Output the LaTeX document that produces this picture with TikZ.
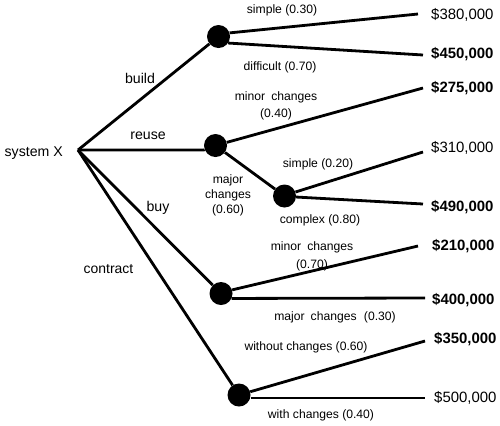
\documentclass[tikz,border=0pt]{standalone}
\usepackage{fontspec}
\setmainfont{Liberation Sans}
\begin{document}
\begin{tikzpicture}[x=1bp,y=-1bp,
  edge/.style={line width=2.8bp},
  chance/.style={circle, fill=black, minimum size=23bp, inner sep=0pt},
  lbl/.style={font=\fontsize{12.2}{15}\selectfont, inner sep=0pt, align=center},
  act/.style={font=\fontsize{14.2}{16}\selectfont, inner sep=0pt},
  amt/.style={font=\fontsize{15}{16}\selectfont, anchor=west, inner sep=0pt},
  amtb/.style={amt, font=\fontsize{15}{16}\selectfont\bfseries}]
\useasboundingbox (0,0) rectangle (500,425);
% root
\coordinate (root) at (78,150);
\node[act, anchor=east] (sx) at (63,153) {system X};
% chance nodes
\node[chance] (bd) at (218.5,36.5) {};
\node[chance] (ru) at (215.5,145.5) {};
\node[chance] (cx) at (284.5,196) {};
\node[chance] (by) at (221,293.5) {};
\node[chance] (ct) at (239,395) {};
% end points
\coordinate (e1) at (418,14);
\coordinate (e2) at (423,55);
\coordinate (e3) at (423,88);
\coordinate (e4) at (423,152);
\coordinate (e5) at (423,204);
\coordinate (e6) at (418,246);
\coordinate (e7) at (425,298);
\coordinate (e8) at (425,341);
\coordinate (e9) at (425,398);
% edges from root
\draw[edge] (root) -- (bd);
\draw[edge] (root) -- (ru.west |- root) -- (ru);
\draw[edge] (root) -- (by);
\draw[edge] (root) -- (ct);
% build branches
\draw[edge] (bd.18) -- (e1);
\draw[edge] (bd.-34) -- (e2);
% reuse branches
\draw[edge] (ru) -- (e3);
\draw[edge] (ru) -- (cx);
\draw[edge] (cx.20) -- (e4);
\draw[edge] (cx.-5) -- (e5);
% buy branches
\draw[edge] (by.18) -- (e6);
\draw[edge] (by.-25) -- (e7);
% contract branches
\draw[edge] (ct) -- (e8);
\draw[edge] (ct.east |- e9) -- (e9);
% action labels
\node[act] (lbuild) at (140,78) {build};
\node[act] (lreuse) at (148,136) {reuse};
\node[act] (lbuy) at (158,208) {buy};
\node[act, font=\fontsize{14}{16}\selectfont] (lcon) at (108.5,269) {contract};
% probability labels
\node[lbl] (p1) at (282,10) {simple (0.30)};
\node[lbl] (p2) at (280,67) {difficult (0.70)};
\node[lbl, font=\fontsize{12.2}{17}\selectfont] (p3) at (276,106) {minor\hspace{0.5em}changes\\(0.40)};
\node[lbl] (p4) at (228,195) {major\\changes\\(0.60)};
\node[lbl] (p5) at (318,164) {simple (0.20)};
\node[lbl] (p6) at (320,220) {complex (0.80)};
\node[lbl, font=\fontsize{12.2}{18}\selectfont] (p7) at (312,256) {minor\hspace{0.5em}changes\\(0.70)};
\node[lbl] (p8) at (335,317) {major\hspace{0.5em}changes\hspace{0.6em}(0.30)};
\node[lbl] (p9) at (306,347) {without changes (0.60)};
\node[lbl] (p10) at (321,415) {with changes (0.40)};
% amounts
\node[amt] (a1) at (431,15) {\$380,000};
\node[amtb] (a2) at (431,54) {\$450,000};
\node[amtb] (a3) at (431,88) {\$275,000};
\node[amt] (a4) at (431,148) {\$310,000};
\node[amtb] (a5) at (431,207) {\$490,000};
\node[amtb] (a6) at (432,246) {\$210,000};
\node[amtb] (a7) at (432,300) {\$400,000};
\node[amtb] (a8) at (434,339) {\$350,000};
\node[amt] (a9) at (434,398) {\$500,000};
\end{tikzpicture}
\end{document}
